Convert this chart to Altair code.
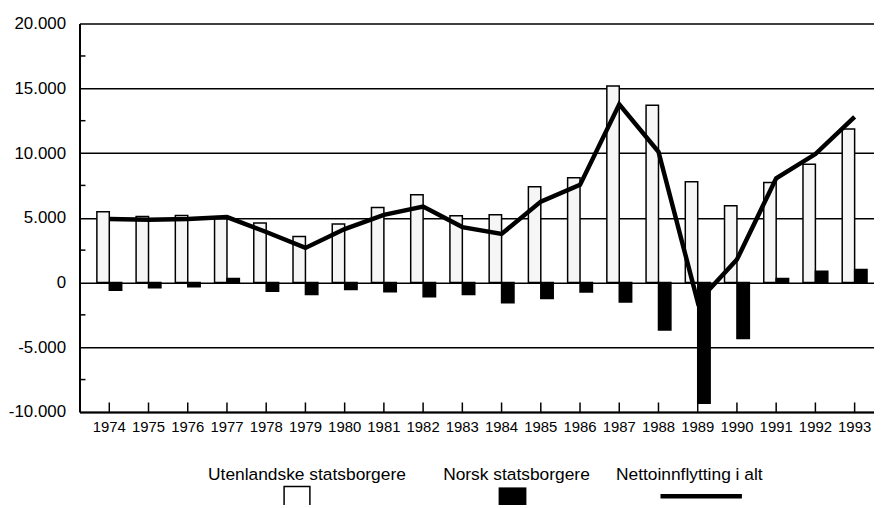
import altair as alt
import pandas as pd

# ---- data ----
years = list(range(1974, 1994))
utenlandske = [5460, 5100, 5180, 4920, 4590, 3560, 4510, 5800, 6770, 5150,
               5230, 7400, 8100, 15180, 13690, 7790, 5920, 7720, 9130, 11850]
norsk = [-600, -400, -330, 300, -670, -920, -540, -720, -1100, -920,
         -1560, -1230, -740, -1510, -3670, -9330, -4330, 300, 870, 1000]
netto = [4900, 4850, 4900, 5050, 3900, 2670, 4130, 5230, 5870, 4280,
         3750, 6250, 7540, 13770, 10100, -1500, 1770, 8050, 9920, 12790]
series_names = ["Utenlandske statsborgere", "Norsk statsborgere"]
line_name = "Nettoinnflytting i alt"
y_major = [-10000, -5000, 0, 5000, 10000, 15000, 20000]
y_minor = [-7500, -2500, 2500, 7500, 12500, 17500]

# ---- tables ----
df_bars = pd.DataFrame(
    [{"year": y, "series": series_names[0], "value": u} for y, u in zip(years, utenlandske)]
    + [{"year": y, "series": series_names[1], "value": n} for y, n in zip(years, norsk)]
)
df_line = pd.DataFrame({"year": years, "value": netto})
df_minor = pd.DataFrame({"value": y_minor})
df_years = pd.DataFrame({"year": years})

W, H = 800, 391
FONT = "Liberation Sans, Arial, Helvetica, sans-serif"

xscale = alt.Scale(paddingInner=0.367, paddingOuter=0.31, align=0.714, round=False)
yscale = alt.Scale(domain=[-10000, 20000], nice=False, zero=False)

xaxis = alt.Axis(title=None, labelFont=FONT, labelFontSize=15, labelColor="black",
                 labelAngle=0, labelPadding=8, tickSize=0, domainColor="black",
                 domainWidth=2, grid=False)
yaxis = alt.Axis(title=None, values=y_major, labelFont=FONT, labelFontSize=17,
                 labelColor="black", labelPadding=14, tickSize=0,
                 domainColor="black", domainWidth=2, grid=True, gridColor="black",
                 gridWidth=1.5, gridOpacity=1,
                 labelExpr="(datum.value < 0 ? '-' : '') + replace(format(abs(datum.value), ','), ',', '.')")

X = alt.X("year:O", scale=xscale, axis=xaxis)
Y = alt.Y("value:Q", scale=yscale, axis=yaxis)

bars = alt.Chart(df_bars).mark_bar(stroke="black", strokeWidth=1.5).encode(
    x=X,
    xOffset=alt.XOffset("series:N", sort=series_names,
                        scale=alt.Scale(paddingInner=0, paddingOuter=0)),
    y=Y,
    fill=alt.Fill("series:N", scale=alt.Scale(domain=series_names,
                                              range=["#f6f6f6", "#000000"]),
                  legend=None),
)

line = alt.Chart(df_line).mark_line(color="black", strokeWidth=4.5,
                                    strokeJoin="miter").encode(x=X, y=Y)

xticks = alt.Chart(df_years).mark_rule(color="black", strokeWidth=1.5).encode(
    x=X,
    y=alt.value(H - 9.5),
    y2=alt.value(H),
)

yticks = alt.Chart(df_minor).mark_rule(color="black", strokeWidth=1.5).encode(
    y=Y,
    x=alt.value(0),
    x2=alt.value(6),
)

one = alt.Data(values=[{"k": 1}])
legend_layers = []
text_x = [229, 440, 614]
for lbl, tx in zip(series_names + [line_name], text_x):
    legend_layers.append(
        alt.Chart(one).mark_text(font=FONT, fontSize=17.5, color="black",
                                 align="center", baseline="alphabetic").encode(
            x=alt.value(tx), y=alt.value(460), text=alt.value(lbl))
    )
legend_layers.append(
    alt.Chart(one).mark_rect(fill="white", stroke="black", strokeWidth=1.5).encode(
        x=alt.value(206), x2=alt.value(232), y=alt.value(466), y2=alt.value(492))
)
legend_layers.append(
    alt.Chart(one).mark_rect(fill="black").encode(
        x=alt.value(422), x2=alt.value(450), y=alt.value(467), y2=alt.value(492))
)
legend_layers.append(
    alt.Chart(one).mark_rule(color="black", strokeWidth=4.5).encode(
        x=alt.value(585), x2=alt.value(667), y=alt.value(476))
)

chart = alt.layer(bars, line, xticks, yticks, *legend_layers).properties(
    width=W, height=H,
    autosize=alt.AutoSizeParams(type="none"),
    padding={"left": 72, "top": 14, "right": 0, "bottom": 92},
    background="white",
).configure_view(stroke=None)

chart.save("out.html", embed_options={"renderer": "svg", "actions": False})
